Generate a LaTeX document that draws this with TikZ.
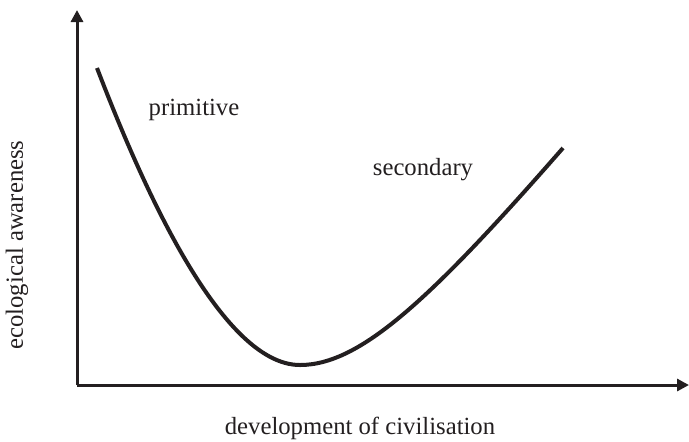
\documentclass[tikz,border=0pt]{standalone}
\usepackage{fontspec}
\setmainfont{Liberation Serif}
\usetikzlibrary{arrows.meta}
\definecolor{ink}{HTML}{231F20}
\begin{document}
\begin{tikzpicture}[x=0.5pt,y=-0.5pt,
    axis/.style={line width=1.5pt,ink,-{Triangle[length=6pt,width=6pt]}},
    curve/.style={line width=2pt,ink},
    lbl/.style={ink,inner sep=0pt,font=\fontsize{12.35}{14}\selectfont}]
  \useasboundingbox (0,0) rectangle (689,441);
  \coordinate (O) at (77,385);
  \coordinate (ytip) at (77,10);
  \coordinate (xtip) at (689,385);
  \draw[axis] (O) -- (ytip);
  \draw[axis] (O) -- (xtip);
  \coordinate (start) at (97,68);
  \coordinate (low) at (300,365);
  \coordinate (end) at (563,148);
  \draw[curve] (start) .. controls (140,180) and (220,365) .. (low)
        .. controls (360,365) and (430,300) .. (end);
  \node[lbl] (primitive) at (194,110) {primitive};
  \node[lbl] (secondary) at (423,170) {secondary};
  \node[lbl,rotate=90] (awareness) at (17,245) {ecological awareness};
  \node[lbl] (civilisation) at (360,428) {development of civilisation};
\end{tikzpicture}
\end{document}
